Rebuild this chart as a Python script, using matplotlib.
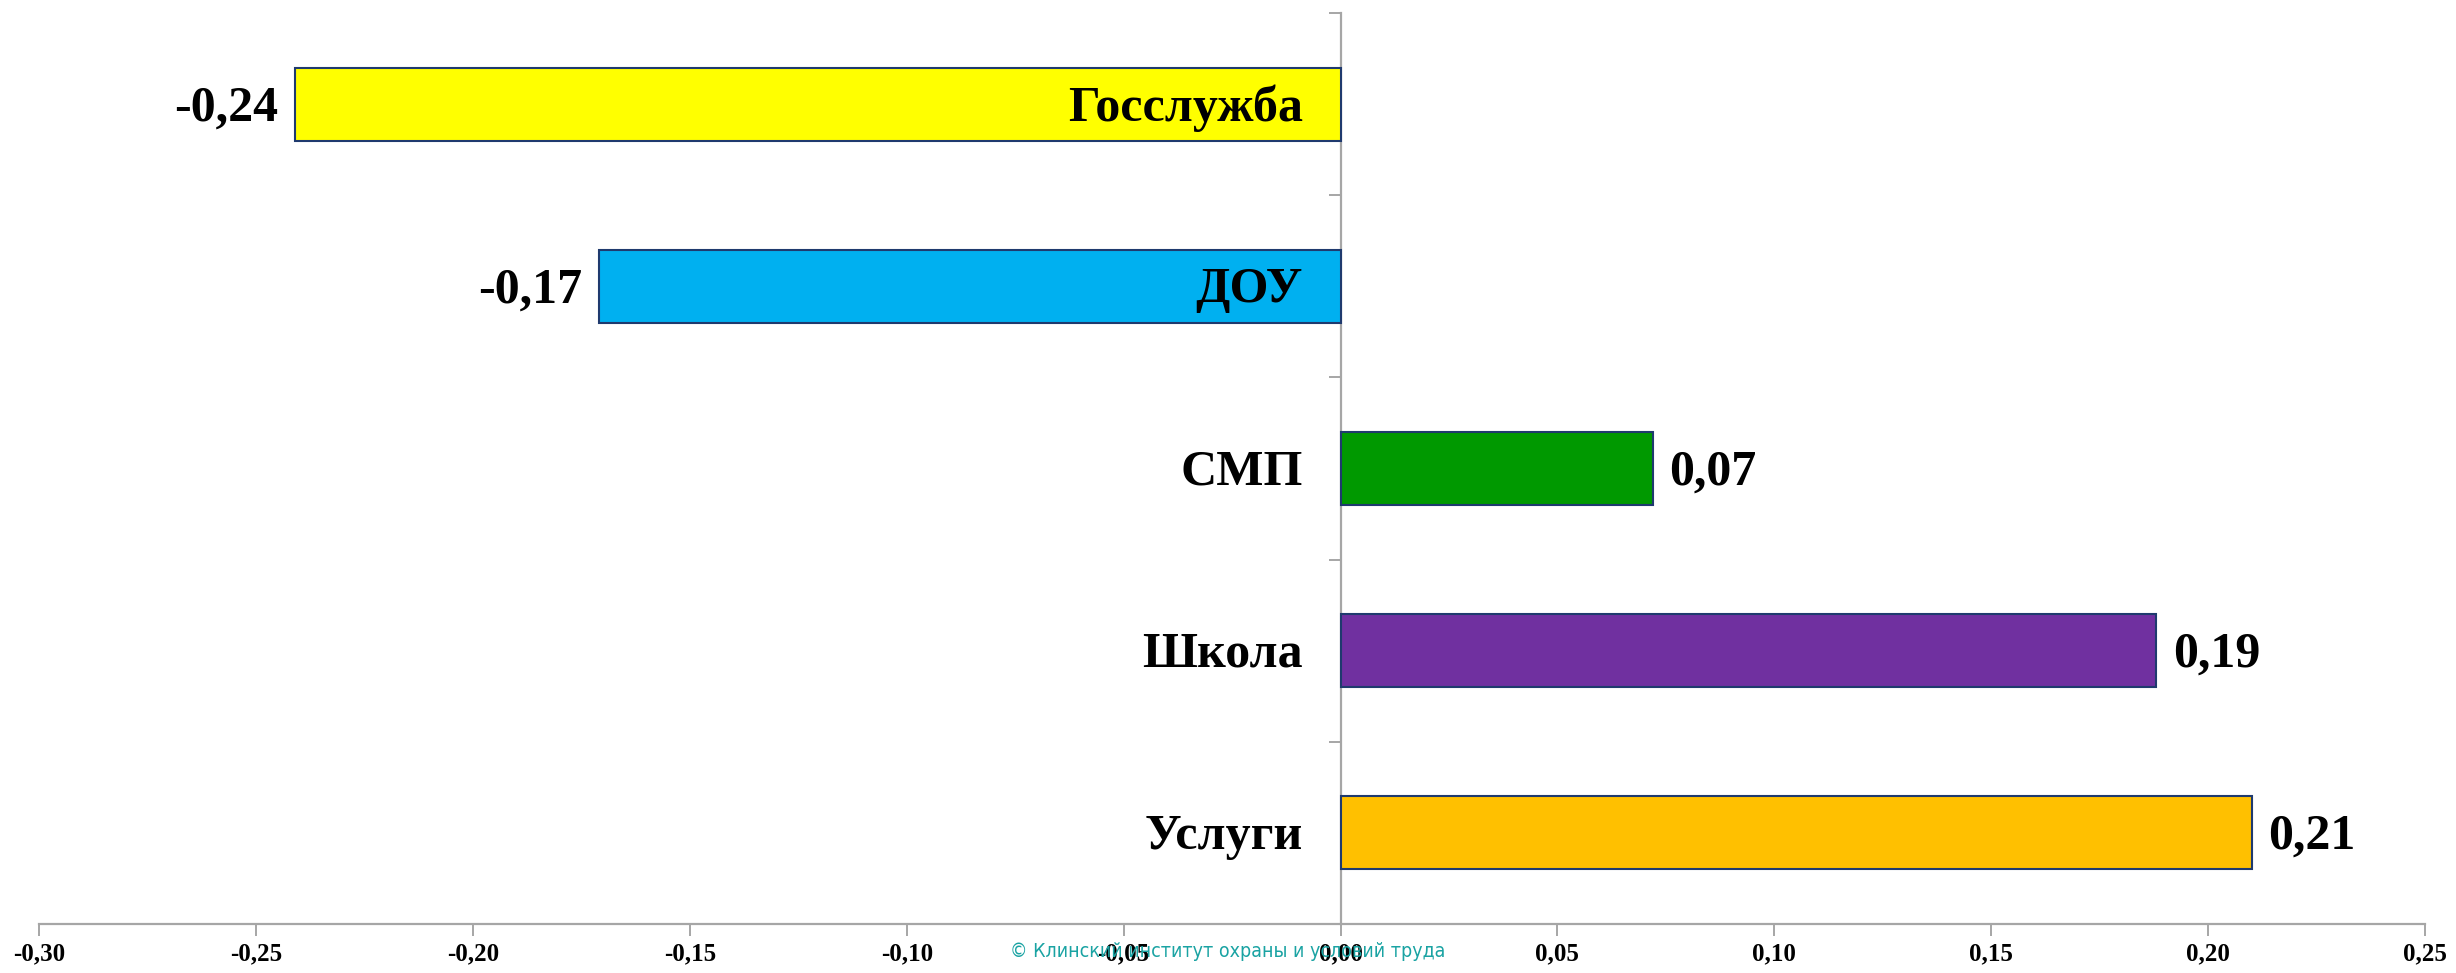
import matplotlib.pyplot as plt
import matplotlib.ticker as mticker

# data (top to bottom in the picture)
categories = ["Госслужба", "ДОУ", "СМП", "Школа", "Услуги"]
values = [-0.241, -0.171, 0.072, 0.188, 0.210]
value_labels = ["-0,24", "-0,17", "0,07", "0,19", "0,21"]
colors = ["#FFFF00", "#00B0F0", "#009900", "#7030A0", "#FFC000"]
x_ticks = [-0.30, -0.25, -0.20, -0.15, -0.10, -0.05, 0.00, 0.05, 0.10, 0.15, 0.20, 0.25]
x_tick_labels = ["-0,30", "-0,25", "-0,20", "-0,15", "-0,10", "-0,05",
                 "0,00", "0,05", "0,10", "0,15", "0,20", "0,25"]

SERIF = "Liberation Serif"
AXIS_GRAY = "#A6A6A6"

fig = plt.figure(figsize=(24.56, 9.73), dpi=100)
ax = fig.add_axes([0.0159, 0.0504, 0.9715, 0.9362])

n = len(categories)
ypos = [n - 1 - i for i in range(n)]
ax.barh(ypos, values, height=0.4, color=colors, edgecolor="#1F3A6E", linewidth=1.5, zorder=3)

for y, v, lab in zip(ypos, values, value_labels):
    if v < 0:
        ax.annotate(lab, (v, y), xytext=(-12, -3), textcoords="offset points",
                    ha="right", va="center", fontsize=36, fontweight="bold", family=SERIF)
    else:
        ax.annotate(lab, (v, y), xytext=(12, -3), textcoords="offset points",
                    ha="left", va="center", fontsize=36, fontweight="bold", family=SERIF)

# category names sit just left of the zero line, over the bars
for y, cat in zip(ypos, categories):
    ax.annotate(cat, (0, y), xytext=(-27, -3), textcoords="offset points",
                ha="right", va="center", fontsize=36, fontweight="bold", family=SERIF, zorder=5)

ax.set_xlim(-0.30, 0.25)
ax.set_ylim(-0.5, n - 0.5)

ax.set_xticks(x_ticks)
ax.set_xticklabels(x_tick_labels, fontsize=18, fontweight="bold", family=SERIF)

# tick marks on the category boundaries
ax.yaxis.set_major_locator(mticker.FixedLocator([i - 0.5 for i in range(n + 1)]))
ax.yaxis.set_major_formatter(mticker.NullFormatter())
ax.tick_params(axis="y", length=8.5, width=1.4, color=AXIS_GRAY, direction="out")
ax.tick_params(axis="x", length=8.5, width=1.4, color=AXIS_GRAY, direction="out", pad=5)

ax.spines["left"].set_position(("data", 0))
for s in ["left", "bottom"]:
    ax.spines[s].set_color(AXIS_GRAY)
    ax.spines[s].set_linewidth(1.6)
ax.spines["top"].set_visible(False)
ax.spines["right"].set_visible(False)

fig.text(0.5, 0.022, "© Клинский институт охраны и условий труда", ha="center", va="center",
         fontsize=14, fontstretch="condensed", color="#1AA3A3", family="DejaVu Sans", zorder=10)

fig.savefig("out.png", dpi=100)
